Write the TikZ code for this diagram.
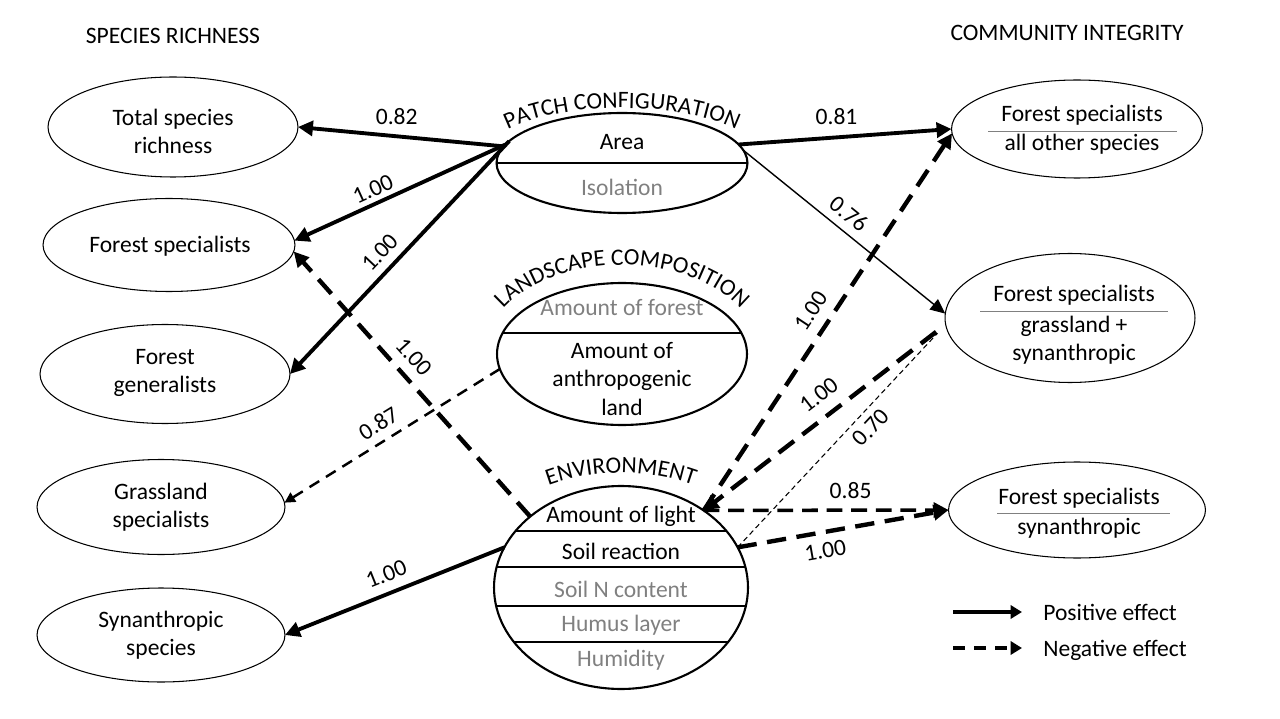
\documentclass[tikz,border=0pt]{standalone}
\usepackage{fontspec}
\setmainfont{Carlito}
\usetikzlibrary{arrows.meta,shapes.geometric,decorations.text}
\definecolor{midgray}{RGB}{128,128,128}
\newcommand\bodyfont{\fontsize{13.4pt}{16pt}\selectfont}
\begin{document}
\begin{tikzpicture}[x=0.02cm,y=0.02cm,
 oval/.style={ellipse, draw, line width=0.6pt, inner sep=0pt, outer sep=0pt},
 bigoval/.style={ellipse, draw, line width=1.2pt, inner sep=0pt, outer sep=0pt},
 txt/.style={align=center, inner sep=0pt, font=\bodyfont},
 gtxt/.style={txt, text=midgray},
 lbl/.style={font=\bodyfont, inner sep=1pt},
 bigtip/.style={-{Triangle[length=8.5pt,width=8.5pt]}},
 posarrow/.style={line width=2.2pt, bigtip},
 negthick/.style={line width=2.5pt, dash pattern=on 11pt off 6pt},
 negmid/.style={line width=1.4pt, dash pattern=on 6.5pt off 4.5pt},
 negthin/.style={line width=0.6pt, dash pattern=on 3pt off 2pt},
 divider/.style={line width=1.2pt},
 sepline/.style={line width=0.5pt, color=gray},
]
\useasboundingbox (0,0) rectangle (1280,-719);

% headings
\node[txt] (h1) at (173,-36) {SPECIES RICHNESS};
\node[txt] (h2) at (1067,-33) {COMMUNITY INTEGRITY};

% left ellipses
\node[oval, minimum width=5cm, minimum height=2cm] (L1) at (173,-127) {};
\node[txt] (L1t) at (173,-131) {Total species\\richness};
\node[oval, minimum width=5.04cm, minimum height=1.86cm] (L2) at (169,-245) {};
\node[txt] (L2t) at (170,-246) {Forest specialists};
\node[oval, minimum width=5cm, minimum height=1.98cm] (L3) at (165,-374) {};
\node[txt] (L3t) at (165,-373) {Forest\\generalists};
\node[oval, minimum width=4.96cm, minimum height=1.9cm] (L4) at (161,-507) {};
\node[txt] (L4t) at (161,-507) {Grassland\\specialists};
\node[oval, minimum width=4.96cm, minimum height=1.88cm] (L5) at (161,-635) {};
\node[txt] (L5t) at (161,-635) {Synanthropic\\species};

% right ellipses
\node[oval, minimum width=5.02cm, minimum height=1.96cm] (R1) at (1077,-129) {};
\node[txt] (R1a) at (1082,-115) {Forest specialists};
\draw[sepline] (988,-131) -- (1177,-131);
\node[txt] (R1b) at (1082,-144) {all other species};
\node[oval, minimum width=5cm, minimum height=2.58cm] (R2) at (1070,-318) {};
\node[txt] (R2a) at (1074,-295) {Forest specialists};
\draw[sepline] (980,-311) -- (1168,-311);
\node[txt] (R2b) at (1074,-340) {grassland +\\synanthropic};
\node[oval, minimum width=5.14cm, minimum height=1.92cm] (R3) at (1077,-510) {};
\node[txt] (R3a) at (1079,-498) {Forest specialists};
\draw[sepline] (997,-513) -- (1170,-513);
\node[txt] (R3b) at (1079,-528) {synanthropic};

% central ellipses
\node[bigoval, minimum width=5.02cm, minimum height=2cm] (P) at (622,-163) {};
\draw[divider] (P.west) -- (P.east);
\node[txt] (Pa) at (622,-142) {Area};
\node[gtxt] (Pb) at (622,-187) {Isolation};
\path[decorate, decoration={text along path, text={|\bodyfont|PATCH CONFIGURATION}, text align=center}]
  (477,-163) arc[start angle=180, end angle=0, x radius=2.9cm, y radius=1.1cm];

\node[bigoval, minimum width=5cm, minimum height=2.84cm] (Land) at (622,-354) {};
\begin{scope}
  \clip (622,-354) ellipse[x radius=2.5cm, y radius=1.42cm];
  \draw[divider] (480,-333) -- (760,-333);
\end{scope}
\node[gtxt] (La) at (622,-308) {Amount of forest};
\node[txt] (Lb) at (622,-379) {Amount of\\anthropogenic\\land};
\path[decorate, decoration={text along path, text={|\bodyfont|LANDSCAPE COMPOSITION}, text align=center}]
  (484,-354) arc[start angle=180, end angle=0, x radius=2.76cm, y radius=1.78cm];

\node[bigoval, minimum width=5.08cm, minimum height=4.06cm] (Env) at (621,-587.5) {};
\begin{scope}
  \clip (621,-587.5) ellipse[x radius=2.54cm, y radius=2.03cm];
  \draw[divider] (480,-531) -- (760,-531);
  \draw[divider] (480,-567) -- (760,-567);
  \draw[divider] (480,-606) -- (760,-606);
  \draw[divider] (480,-642) -- (760,-642);
\end{scope}
\node[txt] (E1) at (621,-516) {Amount of light};
\node[txt] (E2) at (621,-551) {Soil reaction};
\node[gtxt] (E3) at (621,-589) {Soil N content};
\node[gtxt] (E4) at (621,-625) {Humus layer};
\node[gtxt] (E5) at (621,-660) {Humidity};
\path[decorate, decoration={text along path, text={|\bodyfont|ENVIRONMENT}, text align=center}]
  (461,-587.5) arc[start angle=180, end angle=0, x radius=3.2cm, y radius=2.29cm];

% connectors
\draw[posarrow] (P.172) -- node[lbl, pos=0.52, above=4.7pt] {0.82} (L1.east);
\draw[posarrow] (P.171) -- node[lbl, sloped, pos=0.6, above=1.5pt] {1.00} (L2.2);
\draw[posarrow] (P.169) -- node[lbl, sloped, pos=0.53, above=3.5pt] {1.00} (L3.east);
\draw[posarrow] (P.9) -- node[lbl, pos=0.46, above=5pt] {0.81} (R1.west);
\draw[line width=0.8pt, -{Triangle[length=8.5pt,width=7.5pt]}] (P.6) -- node[lbl, sloped, pos=0.47, above=3.6pt] {0.76} (R2.178);
\draw[negmid, -{Triangle[length=6pt,width=6pt]}] (Land.187) -- node[lbl, sloped, pos=0.52, above=3.8pt] {0.87} (L4.2);
\draw[negthick, bigtip] (Env.142) -- node[lbl, sloped, pos=0.553, above=4.6pt] {1.00} (L2.-3);
\draw[posarrow] (Env.161) -- node[lbl, sloped, pos=0.506, above=4.4pt] {1.00} (L5.east);
\draw[negthick, bigtip] (Env.43) -- node[lbl, sloped, pos=0.5, above=5pt] {1.00} (R1.182);
\draw[negthick, bigtip, shorten <=0.24cm] (R2.183) -- node[lbl, sloped, pos=0.47, above=5.6pt] {1.00} (Env.43);
\draw[negthin, shorten >=0.24cm] (Env.19) -- node[lbl, sloped, pos=0.585, below=3.1pt] {0.70} (R2.183);
\draw[line width=2pt, dash pattern=on 9pt off 5pt, bigtip] (Env.43) -- node[lbl, pos=0.6, above=4.6pt] {0.85} (R3.west);
\draw[negthick, bigtip] (Env.19) -- node[lbl, sloped, pos=0.4, below=4pt] {1.00} (R3.west);

% legend
\coordinate (lp1) at (953,-612);
\coordinate (lp2) at (1022,-612);
\draw[line width=1.8pt, -{Triangle[length=6.5pt,width=7.5pt]}] (lp1) -- (lp2);
\node[txt, anchor=west] (lpt) at (1043,-612) {Positive effect};
\coordinate (ln1) at (953,-648);
\coordinate (ln2) at (1022,-648);
\draw[line width=1.8pt, dash pattern=on 7pt off 5pt, -{Triangle[length=6.5pt,width=7.5pt]}] (ln1) -- (ln2);
\node[txt, anchor=west] (lnt) at (1043,-650) {Negative effect};
\end{tikzpicture}
\end{document}
